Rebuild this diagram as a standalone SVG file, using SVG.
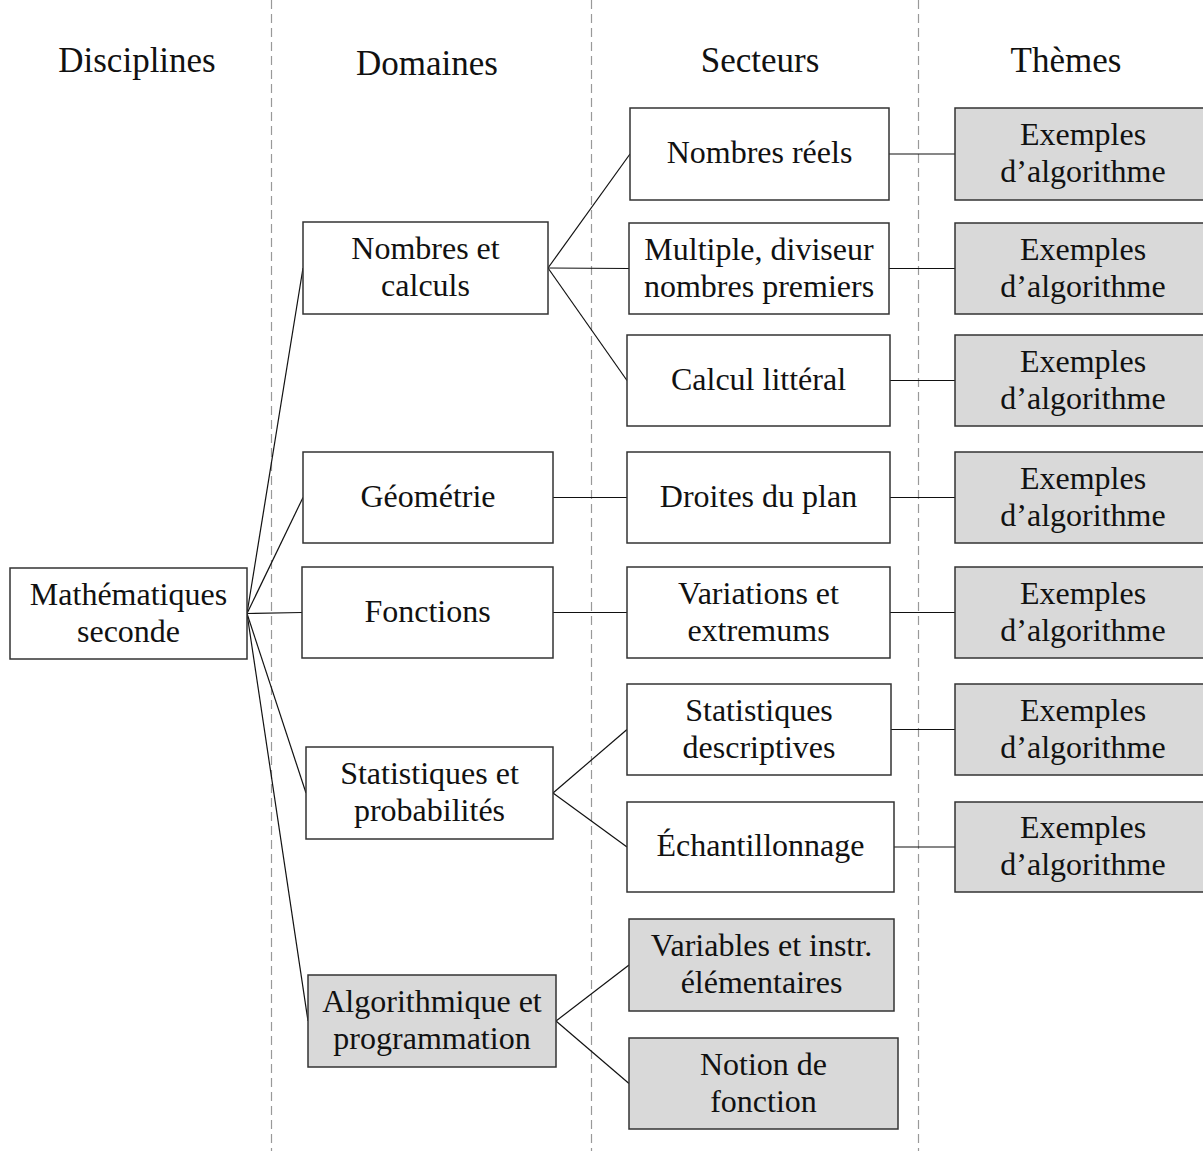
<svg xmlns="http://www.w3.org/2000/svg" width="1203" height="1151" viewBox="0 0 1203 1151">
<style>
.box{fill:#fff;stroke:#333;stroke-width:1.5}
.gray{fill:#d9d9d9}
.t{font-family:"Liberation Serif","Times New Roman",serif;font-size:32px;text-anchor:middle;fill:#111}
.h{font-family:"Liberation Serif","Times New Roman",serif;font-size:35px;text-anchor:middle;fill:#111}
.dash{stroke:#999;stroke-width:1.2;stroke-dasharray:9 5;fill:none}
.c{stroke:#111;stroke-width:1.2;fill:none}
</style>
<rect width="1203" height="1151" fill="#fff"/>
<g id="separators">
<line class="dash" x1="271.5" y1="0" x2="271.5" y2="1151"/>
<line class="dash" x1="591.5" y1="0" x2="591.5" y2="1151"/>
<line class="dash" x1="918.5" y1="0" x2="918.5" y2="1151"/>
</g>
<g id="headers">
<text class="h" x="137" y="72">Disciplines</text>
<text class="h" x="427" y="75">Domaines</text>
<text class="h" x="760" y="72">Secteurs</text>
<text class="h" x="1066" y="72">Thèmes</text>
</g>
<g id="connectors">
<line class="c" x1="247" y1="613.5" x2="303" y2="268"/>
<line class="c" x1="247" y1="613.5" x2="303" y2="497.5"/>
<line class="c" x1="247" y1="613.5" x2="302" y2="612.5"/>
<line class="c" x1="247" y1="613.5" x2="306" y2="793"/>
<line class="c" x1="247" y1="613.5" x2="308" y2="1021"/>
<line class="c" x1="548" y1="268" x2="630" y2="154"/>
<line class="c" x1="548" y1="268" x2="629" y2="268.5"/>
<line class="c" x1="548" y1="268" x2="627" y2="380.5"/>
<line class="c" x1="553" y1="497.5" x2="627" y2="497.5"/>
<line class="c" x1="553" y1="612.5" x2="627" y2="612.5"/>
<line class="c" x1="553" y1="793" x2="627" y2="729.5"/>
<line class="c" x1="553" y1="793" x2="627" y2="847"/>
<line class="c" x1="556" y1="1021" x2="629" y2="965"/>
<line class="c" x1="556" y1="1021" x2="629" y2="1083.5"/>
<line class="c" x1="889" y1="154" x2="955" y2="154"/>
<line class="c" x1="889" y1="268.5" x2="955" y2="268.5"/>
<line class="c" x1="890" y1="380.5" x2="955" y2="380.5"/>
<line class="c" x1="890" y1="497.5" x2="955" y2="497.5"/>
<line class="c" x1="890" y1="612.5" x2="955" y2="612.5"/>
<line class="c" x1="891" y1="729.5" x2="955" y2="729.5"/>
<line class="c" x1="894" y1="847" x2="955" y2="847"/>
</g>
<g id="n-math"><rect class="box" x="10" y="568" width="237" height="91"/><text class="t" x="128.5" y="605">Mathématiques</text><text class="t" x="128.5" y="642">seconde</text></g>
<g id="n-nc"><rect class="box" x="303" y="222" width="245" height="92"/><text class="t" x="425.5" y="259">Nombres et</text><text class="t" x="425.5" y="296">calculs</text></g>
<g id="n-geo"><rect class="box" x="303" y="452" width="250" height="91"/><text class="t" x="428" y="507">Géométrie</text></g>
<g id="n-fon"><rect class="box" x="302" y="567" width="251" height="91"/><text class="t" x="427.5" y="622">Fonctions</text></g>
<g id="n-stat"><rect class="box" x="306" y="747" width="247" height="92"/><text class="t" x="429.5" y="784">Statistiques et</text><text class="t" x="429.5" y="821">probabilités</text></g>
<g id="n-algo"><rect class="box gray" x="308" y="975" width="248" height="92"/><text class="t" x="432" y="1012">Algorithmique et</text><text class="t" x="432" y="1049">programmation</text></g>
<g id="s-nr"><rect class="box" x="630" y="108" width="259" height="92"/><text class="t" x="759.5" y="163">Nombres réels</text></g>
<g id="s-mult"><rect class="box" x="629" y="223" width="260" height="91"/><text class="t" x="759" y="259.5">Multiple, diviseur</text><text class="t" x="759" y="296.5">nombres premiers</text></g>
<g id="s-calc"><rect class="box" x="627" y="335" width="263" height="91"/><text class="t" x="758.5" y="389.5">Calcul littéral</text></g>
<g id="s-droites"><rect class="box" x="627" y="452" width="263" height="91"/><text class="t" x="758.5" y="507">Droites du plan</text></g>
<g id="s-var"><rect class="box" x="627" y="567" width="263" height="91"/><text class="t" x="758.5" y="603.5">Variations et</text><text class="t" x="758.5" y="640.5">extremums</text></g>
<g id="s-sd"><rect class="box" x="627" y="684" width="264" height="91"/><text class="t" x="759" y="720.5">Statistiques</text><text class="t" x="759" y="757.5">descriptives</text></g>
<g id="s-ech"><rect class="box" x="627" y="802" width="267" height="90"/><text class="t" x="760.5" y="856">Échantillonnage</text></g>
<g id="s-vi"><rect class="box gray" x="629" y="919" width="265" height="92"/><text class="t" x="761.5" y="956">Variables et instr.</text><text class="t" x="761.5" y="993">élémentaires</text></g>
<g id="s-nf"><rect class="box gray" x="629" y="1038" width="269" height="91"/><text class="t" x="763.5" y="1074.5">Notion de</text><text class="t" x="763.5" y="1111.5">fonction</text></g>
<g id="t1"><rect class="box gray" x="955" y="108" width="258" height="92"/><text class="t" x="1083" y="145">Exemples</text><text class="t" x="1083" y="182">d’algorithme</text></g>
<g id="t2"><rect class="box gray" x="955" y="223" width="258" height="91"/><text class="t" x="1083" y="259.5">Exemples</text><text class="t" x="1083" y="296.5">d’algorithme</text></g>
<g id="t3"><rect class="box gray" x="955" y="335" width="258" height="91"/><text class="t" x="1083" y="371.5">Exemples</text><text class="t" x="1083" y="408.5">d’algorithme</text></g>
<g id="t4"><rect class="box gray" x="955" y="452" width="258" height="91"/><text class="t" x="1083" y="488.5">Exemples</text><text class="t" x="1083" y="525.5">d’algorithme</text></g>
<g id="t5"><rect class="box gray" x="955" y="567" width="258" height="91"/><text class="t" x="1083" y="603.5">Exemples</text><text class="t" x="1083" y="640.5">d’algorithme</text></g>
<g id="t6"><rect class="box gray" x="955" y="684" width="258" height="91"/><text class="t" x="1083" y="720.5">Exemples</text><text class="t" x="1083" y="757.5">d’algorithme</text></g>
<g id="t7"><rect class="box gray" x="955" y="802" width="258" height="90"/><text class="t" x="1083" y="838">Exemples</text><text class="t" x="1083" y="875">d’algorithme</text></g>
</svg>
